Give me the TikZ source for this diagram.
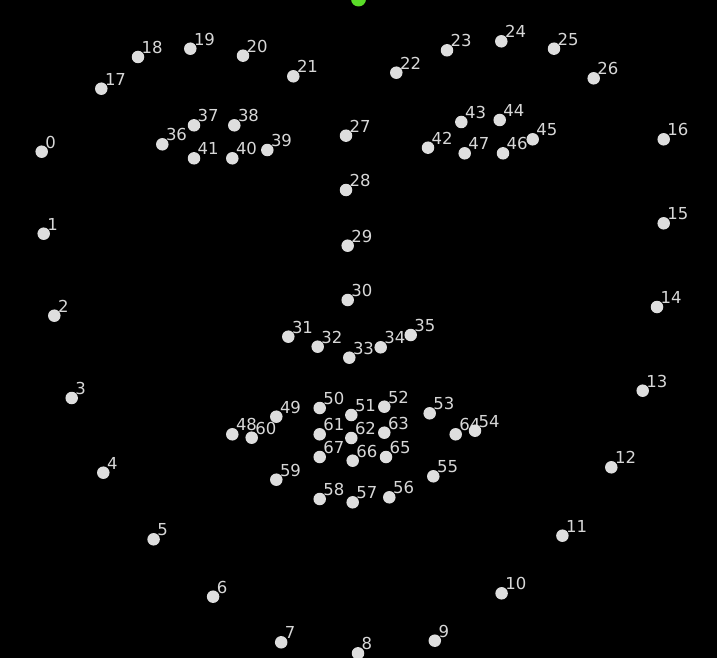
\documentclass[tikz,border=0pt]{standalone}
\usepackage{fontspec}
\setmainfont{DejaVu Sans}
\definecolor{ptfill}{RGB}{222,222,222}
\definecolor{lblcol}{RGB}{215,215,215}
\definecolor{markgreen}{RGB}{90,220,40}
\tikzset{
  pt/.style={circle, fill=ptfill, inner sep=0pt, minimum size=12.5pt},
  lbl/.style={anchor=base west, inner sep=0pt, text=lblcol, font=\fontsize{16.5}{18}\selectfont}
}
\begin{document}
\begin{tikzpicture}[x=1pt,y=-1pt]
\fill[black] (0,0) rectangle (717,658);
\useasboundingbox (0,0) rectangle (717,658);
\begin{scope}
\clip (0,0) rectangle (717,658);
\fill[markgreen] (358.5,-1) circle (7.5);
\end{scope}
\def\pts{0/41.7/151.7, 1/43.7/233.7, 2/54.3/315.7, 3/71.7/398, 4/103.3/472.7, 5/153.6/539.3, 6/213.1/596.7, 7/281.2/642.3, 8/358/653.3, 9/434.8/640.7, 10/501.6/593.3, 11/562.4/535.7, 12/611.3/467.3, 13/642.7/390.7, 14/657/307, 15/663.7/223.3, 16/663.7/139.3, 17/101.3/88.7, 18/138/57, 19/190.3/48.7, 20/243/55.7, 21/293.3/76.3, 22/396.3/72.7, 23/447/50.3, 24/501.3/41.3, 25/554/48.7, 26/593.7/78.3, 27/346/135.7, 28/346/190, 29/347.7/245.7, 30/347.7/300, 31/288.3/336.7, 32/317.7/346.7, 33/349.3/357.7, 34/380.7/347.3, 35/410.7/335, 36/162.3/144.3, 37/194/125.3, 38/234.3/125.3, 39/267.3/150, 40/232.3/158.3, 41/194/158.3, 42/428/147.7, 43/461.3/122, 44/499.7/120, 45/532.7/139.3, 46/503/153.3, 47/464.7/153.3, 48/232.3/434.3, 49/276.3/416.7, 50/319.7/408, 51/351.3/415, 52/384.3/406.7, 53/429.7/413.3, 54/475/430.7, 55/433.3/476.3, 56/389.3/497.3, 57/352.7/502.3, 58/319.7/499, 59/276.3/479.7, 60/251.7/437.7, 61/319.7/434.3, 62/351.3/438, 63/384.3/432.7, 64/455.7/434.3, 65/386/457, 66/352.7/460.7, 67/319.7/457}
\foreach \n/\x/\y in \pts {
  \node[lbl] (l\n) at (\x+3.5,\y-3.5) {\n};
}
\foreach \n/\x/\y in \pts {
  \node[pt] (p\n) at (\x,\y) {};
}
\end{tikzpicture}
\end{document}
